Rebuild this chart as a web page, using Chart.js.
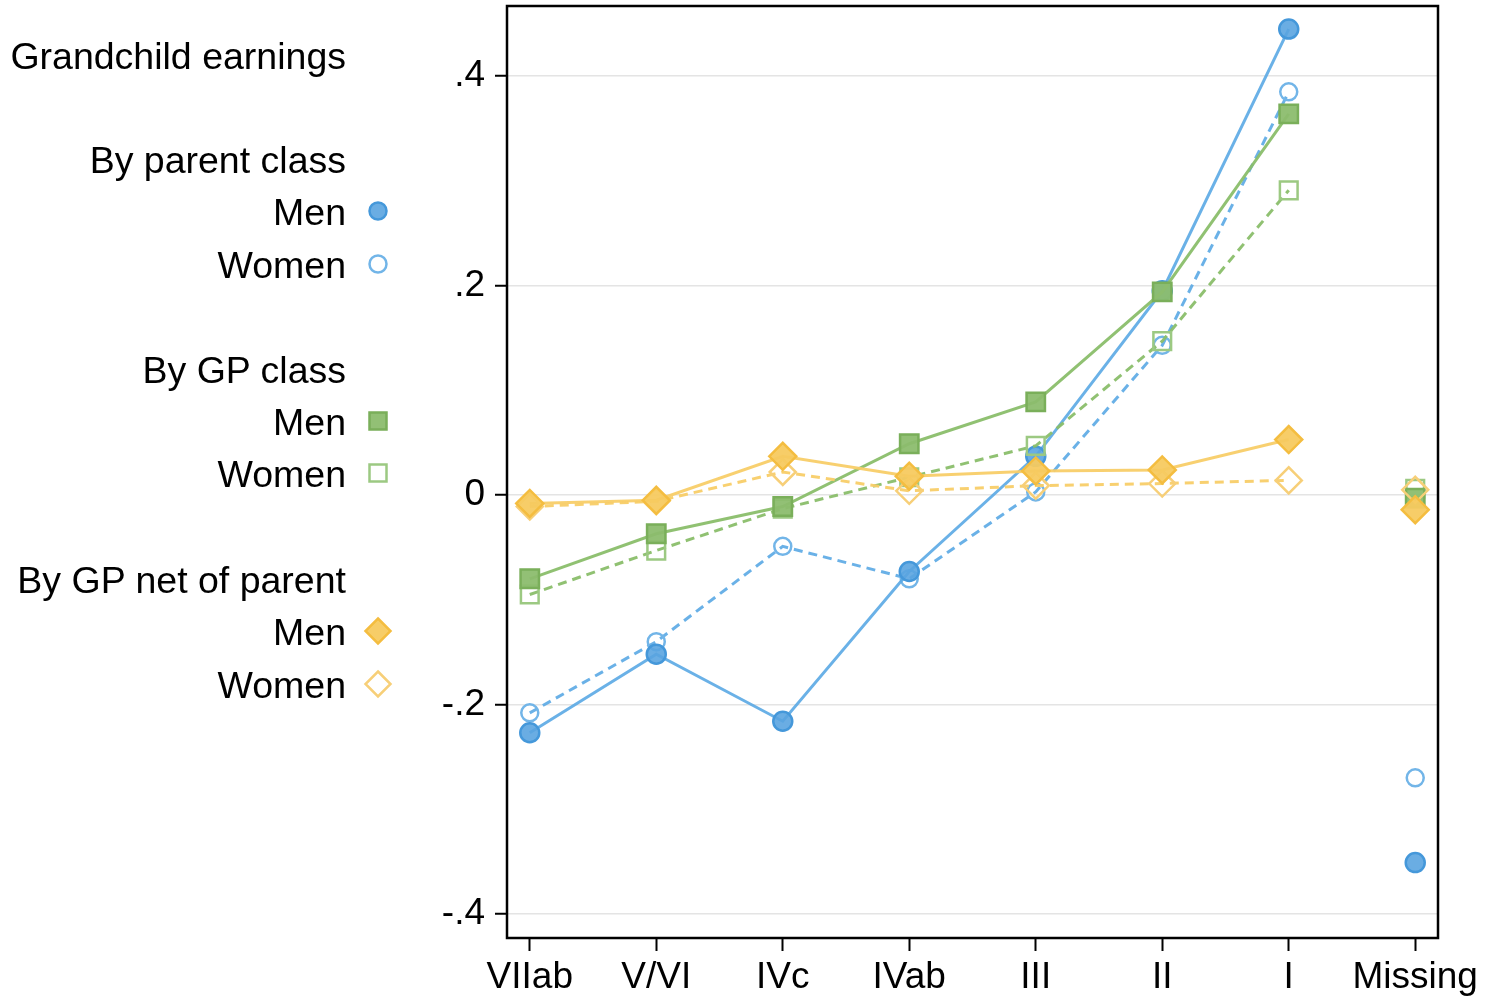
<!DOCTYPE html>
<html>
<head>
<meta charset="utf-8">
<title>Grandchild earnings by class</title>
<script src="https://cdn.jsdelivr.net/npm/chart.js@4"></script>
<style>
  html, body { margin: 0; padding: 0; background: #fff; overflow: hidden; }
  #wrap { position: relative; width: 1493px; height: 1003px; overflow: hidden; font-family: "Liberation Sans", Arial, Helvetica, sans-serif; }
  #chart { position: absolute; left: 0; top: -10px; }
  .lg { position: absolute; right: calc(1493px - 346px); font-size: 37.5px; line-height: 40px; color: #000; white-space: nowrap; }
</style>
</head>
<body>
<div id="wrap">
  <canvas id="chart" width="1493" height="1013"></canvas>
  <div class="lg" style="top:36px">Grandchild earnings</div>
  <div class="lg" style="top:140px">By parent class</div>
  <div class="lg" style="top:192px">Men</div>
  <div class="lg" style="top:245px">Women</div>
  <div class="lg" style="top:350px">By GP class</div>
  <div class="lg" style="top:402px">Men</div>
  <div class="lg" style="top:454px">Women</div>
  <div class="lg" style="top:560px">By GP net of parent</div>
  <div class="lg" style="top:612px">Men</div>
  <div class="lg" style="top:665px">Women</div>
</div>
<script>
// Class of origin categories (the last one is shown unconnected)
const categories = ['VIIab', 'V/VI', 'IVc', 'IVab', 'III', 'II', 'I', 'Missing'];

// Y axis ticks and their labels
const yTickValues = [-0.4, -0.2, 0, 0.2, 0.4];
const yTickLabels = ['-.4', '-.2', '0', '.2', '.4'];

// Grandchild earnings by parent class
const parentMen   = [-0.227, -0.152, -0.216, -0.073, 0.037, 0.195, 0.445, -0.351];
const parentWomen = [-0.208, -0.140, -0.049, -0.080, 0.003, 0.143, 0.385, -0.270];

// Grandchild earnings by grandparent class
const gpMen   = [-0.080, -0.037, -0.011, 0.049, 0.089, 0.194, 0.364, -0.003];
const gpWomen = [-0.095, -0.053, -0.013, 0.017, 0.047, 0.147, 0.291, 0.006];

// Grandchild earnings by grandparent class net of parent class
const netMen   = [-0.008, -0.005, 0.037, 0.018, 0.023, 0.024, 0.053, -0.014];
const netWomen = [-0.011, -0.006, 0.022, 0.004, 0.009, 0.011, 0.014, 0.005];

const BLUE   = { line: 'rgba(90,168,228,0.9)',   edge: '#4598da', hollow: '#72b5e8', fill: 'rgba(90,164,224,0.9)' };
const GREEN  = { line: 'rgba(138,190,106,0.95)', edge: '#7aaf5a', hollow: '#9cc982', fill: 'rgba(140,189,110,0.95)' };
const ORANGE = { line: 'rgba(248,206,104,0.95)', edge: '#f4bd40', hollow: '#f7cf78', fill: 'rgba(247,202,96,0.95)' };

const lastIdx = categories.length - 1;
const toPoints = arr => arr.map((v, i) => ({ x: i, y: v }));

function series(label, values, col, style, radius, filled, dashed, order) {
  return {
    label,
    data: toPoints(values),
    borderColor: col.line,
    borderWidth: 3,
    borderDash: dashed ? [9, 6] : [],
    pointStyle: style,
    pointRadius: radius,
    pointHoverRadius: radius,
    pointBorderWidth: 2.5,
    pointBorderColor: filled ? col.edge : col.hollow,
    pointBackgroundColor: filled ? col.fill : 'rgba(255,255,255,0)',
    fill: false,
    tension: 0,
    order,
    segment: {
      // no connecting line into the "Missing" category
      borderColor: ctx => ctx.p1DataIndex === lastIdx ? 'rgba(0,0,0,0)' : undefined
    }
  };
}

const datasets = [
  series('By GP net of parent: Men',   netMen,      ORANGE, 'rectRot', 13.5, true,  false, 0),
  series('By GP net of parent: Women', netWomen,    ORANGE, 'rectRot', 13,   false, true,  1),
  series('By GP class: Men',           gpMen,       GREEN,  'rect',    13,   true,  false, 2),
  series('By GP class: Women',         gpWomen,     GREEN,  'rect',    12.5, false, true,  3),
  series('By parent class: Men',       parentMen,   BLUE,   'circle',  9.5,  true,  false, 4),
  series('By parent class: Women',     parentWomen, BLUE,   'circle',  8.5,  false, true,  5)
];

// Legend marker keys (canvas coordinates; the canvas sits 10px above the page top)
const legendKeys = [
  { y: 221, style: 'circle',  col: BLUE,   filled: true  },
  { y: 274, style: 'circle',  col: BLUE,   filled: false },
  { y: 431, style: 'rect',    col: GREEN,  filled: true  },
  { y: 483, style: 'rect',    col: GREEN,  filled: false },
  { y: 641, style: 'rectRot', col: ORANGE, filled: true  },
  { y: 694, style: 'rectRot', col: ORANGE, filled: false }
];

const framePlugin = {
  id: 'frame',
  beforeDatasetsDraw(chart) {
    const { ctx, chartArea: a } = chart;
    ctx.save();
    ctx.strokeStyle = '#000';
    ctx.lineWidth = 2.5;
    ctx.strokeRect(a.left, a.top, a.right - a.left, a.bottom - a.top);
    ctx.restore();
  },
  afterDraw(chart) {
    const ctx = chart.ctx;
    const x = 378;
    legendKeys.forEach(k => {
      ctx.save();
      ctx.lineWidth = 2.5;
      ctx.strokeStyle = k.filled ? k.col.edge : k.col.hollow;
      ctx.fillStyle = k.filled ? k.col.fill : '#fff';
      ctx.beginPath();
      if (k.style === 'circle') {
        ctx.arc(x, k.y, 8.5, 0, Math.PI * 2);
      } else if (k.style === 'rect') {
        ctx.rect(x - 8.5, k.y - 8.5, 17, 17);
      } else {
        ctx.moveTo(x, k.y - 12.5);
        ctx.lineTo(x + 12.5, k.y);
        ctx.lineTo(x, k.y + 12.5);
        ctx.lineTo(x - 12.5, k.y);
        ctx.closePath();
      }
      ctx.fill();
      ctx.stroke();
      ctx.restore();
    });
  }
};

const FONT = { family: '"Liberation Sans", Arial, Helvetica, sans-serif', size: 37 };

new Chart(document.getElementById('chart'), {
  type: 'line',
  data: { datasets },
  plugins: [framePlugin],
  options: {
    responsive: false,
    animation: false,
    devicePixelRatio: 1,
    layout: { padding: { top: 16, right: 55, left: 0, bottom: 0 } },
    plugins: { legend: { display: false }, tooltip: { enabled: false } },
    scales: {
      x: {
        type: 'linear',
        min: -0.18,
        max: 7.18,
        afterBuildTicks: scale => { scale.ticks = categories.map((c, i) => ({ value: i })); },
        afterFit: scale => { scale.height = 65; },
        ticks: {
          autoSkip: false,
          maxRotation: 0,
          color: '#000',
          font: FONT,
          padding: 5,
          callback: v => categories[v]
        },
        grid: { color: 'rgba(0,0,0,0)', tickColor: '#000', tickLength: 13, tickWidth: 2 },
        border: { display: false }
      },
      y: {
        type: 'linear',
        min: -0.423,
        max: 0.467,
        afterBuildTicks: scale => { scale.ticks = yTickValues.map(v => ({ value: v })); },
        afterFit: scale => { scale.width = 507; scale.paddingTop = 0; scale.paddingBottom = 0; },
        ticks: {
          color: '#000',
          font: FONT,
          padding: 10,
          callback: v => yTickLabels[yTickValues.indexOf(v)]
        },
        grid: { color: '#e4e4e4', lineWidth: 1.5, tickColor: '#000', tickLength: 12, tickWidth: 2 },
        border: { display: false }
      }
    }
  }
});
</script>
</body>
</html>
